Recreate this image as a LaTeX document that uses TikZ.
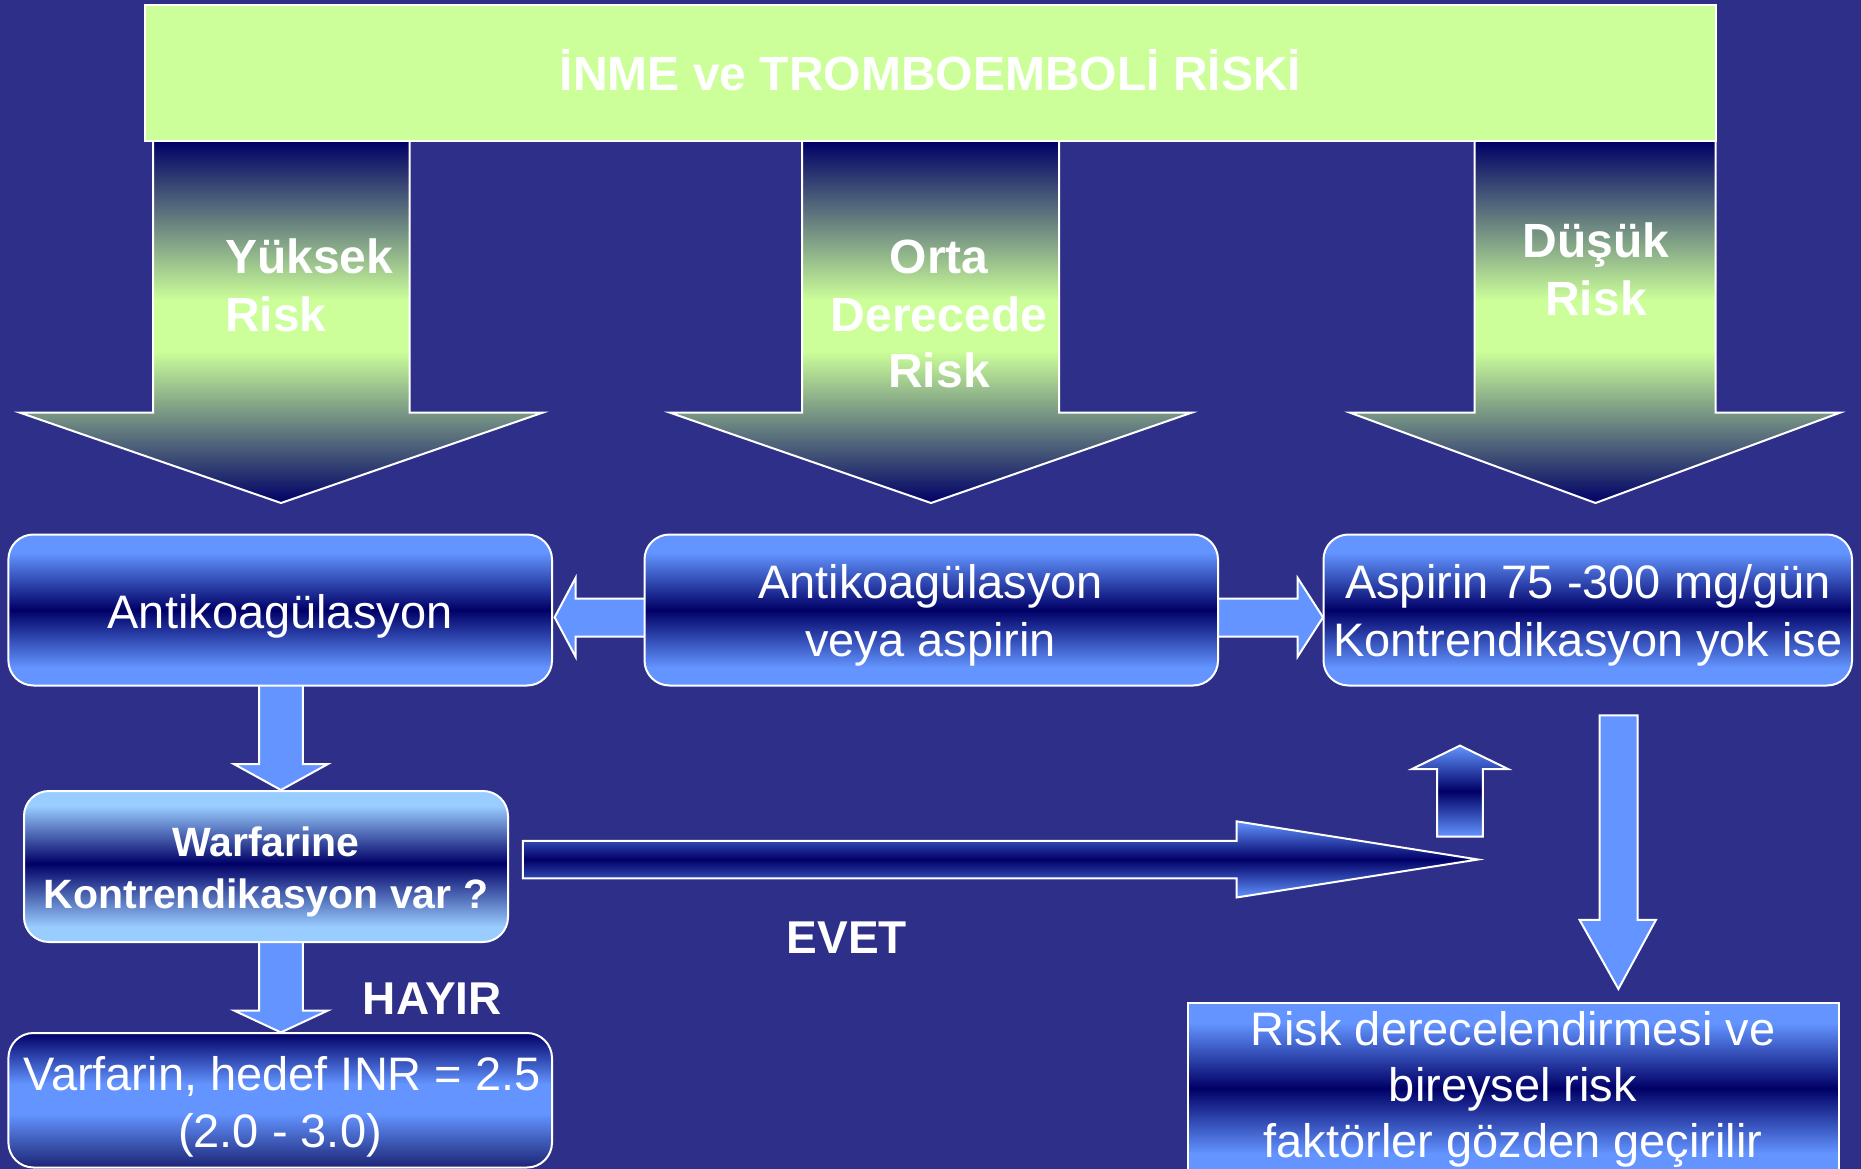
\documentclass[tikz,border=0pt]{standalone}
\usepackage{fontspec}
\setmainfont{Liberation Sans}
\definecolor{bg}{RGB}{46,47,136}
\definecolor{gr}{RGB}{204,255,153}
\definecolor{nv}{RGB}{0,0,102}
\definecolor{lb}{RGB}{99,148,255}
\definecolor{lw}{RGB}{153,204,255}
\definecolor{vb}{RGB}{28,36,116}
\pgfdeclareverticalshading{greenarrow}{100bp}{color(0bp)=(nv); color(25bp)=(nv); color(46bp)=(gr); color(53bp)=(gr); color(75bp)=(nv); color(100bp)=(nv)}
\pgfdeclareverticalshading{lnl}{100bp}{color(0bp)=(lb); color(31bp)=(lb); color(50bp)=(nv); color(69bp)=(lb); color(100bp)=(lb)}
\pgfdeclareverticalshading{wnl}{100bp}{color(0bp)=(lw); color(30bp)=(lw); color(51bp)=(nv); color(70bp)=(lw); color(100bp)=(lw)}
\pgfdeclareverticalshading{nln}{100bp}{color(0bp)=(vb); color(25bp)=(vb); color(45bp)=(lb); color(56bp)=(lb); color(75bp)=(nv); color(100bp)=(nv)}
\begin{document}
\begin{tikzpicture}[x=1pt,y=-1pt,
  wl/.style={draw=white, line width=2pt},
  rbox/.style={wl, rounded corners=25pt, shade, shading=lnl, inner sep=0pt},
  blk/.style={wl, fill=lb, line join=miter},
  garrow/.style={wl, shade, shading=greenarrow, line join=miter},
  sarrow/.style={wl, line join=miter, top color=lb, bottom color=lb, middle color=nv},
  txt/.style={text=white, inner sep=0pt, anchor=base, font=\fontsize{47}{56}\selectfont},
  btxt/.style={text=white, inner sep=0pt, anchor=base, font=\fontsize{48}{58}\selectfont\bfseries},
  wtxt/.style={text=white, inner sep=0pt, anchor=base, font=\fontsize{41}{50}\selectfont\bfseries},
  ltxt/.style={text=white, inner sep=0pt, anchor=base west, font=\fontsize{46}{56}\selectfont\bfseries},
]
\fill[bg] (0,0) rectangle (1861,1169);
\useasboundingbox (0,0) rectangle (1861,1169);

% big green risk arrows
\draw[garrow] (153,141) -- (153,412.7) -- (20,412.7) -- (281,503) -- (542.6,412.7) -- (409.5,412.7) -- (409.5,141) -- cycle;
\draw[garrow] (802,141) -- (802,412.7) -- (670,412.7) -- (931,503) -- (1191.6,412.7) -- (1059,412.7) -- (1059,141) -- cycle;
\draw[garrow] (1474.6,141) -- (1474.6,412.7) -- (1350,412.7) -- (1595.5,503) -- (1840,412.7) -- (1715.6,412.7) -- (1715.6,141) -- cycle;

% title box
\node[wl, fill=gr, minimum width=1571pt, minimum height=136pt, inner sep=0pt] (top) at (930.5,73) {};
\node[btxt] (title) at (930.5,91) {İNME ve TROMBOEMBOLİ RİSKİ};

% arrow labels
\node[btxt, anchor=base west] (y1) at (225,273) {Yüksek};
\node[btxt, anchor=base west] (y2) at (225,331) {Risk};
\node[btxt] (o1) at (939,273) {Orta};
\node[btxt] (o2) at (939,331) {Derecede};
\node[btxt] (o3) at (939,387) {Risk};
\node[btxt] (d1) at (1596,257.7) {Düşük};
\node[btxt] (d2) at (1596,315) {Risk};

% block arrows between boxes (drawn first)
\draw[blk] (645,598.6) -- (575.5,598.6) -- (575.5,578) -- (554.6,617.3) -- (575.5,656.6) -- (575.5,636.7) -- (645,636.7);
\draw[blk] (1217,598.6) -- (1297.7,598.6) -- (1297.7,578) -- (1323,617.3) -- (1297.7,656.6) -- (1297.7,636.7) -- (1217,636.7);
\draw[blk] (259,684) -- (259,764) -- (233.8,764) -- (280.9,790) -- (328,764) -- (302.8,764) -- (302.8,684);
\draw[blk] (259,941) -- (259,1010.5) -- (234,1010.5) -- (280.9,1032.4) -- (328,1010.5) -- (302.8,1010.5) -- (302.8,941);

% boxes
\node[rbox, minimum width=543.6pt, minimum height=151pt] (b1) at (280.2,610) {};
\node[rbox, minimum width=573.5pt, minimum height=151pt] (b2) at (931.25,610) {};
\node[rbox, minimum width=528.5pt, minimum height=151pt] (b3) at (1587.75,610) {};
\node[rbox, shading=wnl, minimum width=484pt, minimum height=151pt] (warf) at (266,866.5) {};
\node[rbox, shading=nln, minimum width=543.6pt, minimum height=134.5pt] (varf) at (280.2,1100.25) {};
\node[wl, shade, shading=lnl, inner sep=0pt, minimum width=650.5pt, minimum height=171.5pt] (rb) at (1513.25,1088.25) {};

% box texts
\node[txt] (t1) at (280,628.4) {Antikoagülasyon};
\node[txt] (t2a) at (930.5,598.6) {Antikoagülasyon};
\node[txt] (t2b) at (930.5,656.6) {veya aspirin};
\node[txt] (t3a) at (1588,598.6) {Aspirin 75 -300 mg/gün};
\node[txt] (t3b) at (1588,656.6) {Kontrendikasyon yok ise};
\node[wtxt] (w1) at (266,856) {Warfarine};
\node[wtxt] (w2) at (266,908) {Kontrendikasyon var ?};
\node[txt] (v1) at (282,1090) {Varfarin, hedef INR = 2.5};
\node[txt] (v2) at (280,1147) {(2.0 - 3.0)};
\node[txt] (r1) at (1513,1045) {Risk derecelendirmesi ve};
\node[txt] (r2) at (1513,1101.5) {bireysel risk};
\node[txt] (r3) at (1513,1157.5) {faktörler gözden geçirilir};

% decision labels
\node[ltxt] (hayir) at (362.7,1014.6) {HAYIR};
\node[ltxt] (evet) at (786.6,953.8) {EVET};

% EVET arrow
\draw[sarrow] (522.8,840.8) -- (1236.5,840.8) -- (1236.5,821.3) -- (1478,859.5) -- (1236.5,897.5) -- (1236.5,878.4) -- (522.8,878.4) -- cycle;
% small up arrow
\draw[sarrow] (1437.2,836.6) -- (1437.2,769) -- (1412,769) -- (1460,745.6) -- (1508,769) -- (1482.8,769) -- (1482.8,836.6) -- cycle;
% right down arrow
\draw[blk] (1599.5,715.4) -- (1599.5,919.8) -- (1579.5,919.8) -- (1618.4,989) -- (1656,919.8) -- (1637.6,919.8) -- (1637.6,715.4) -- cycle;
\end{tikzpicture}
\end{document}
